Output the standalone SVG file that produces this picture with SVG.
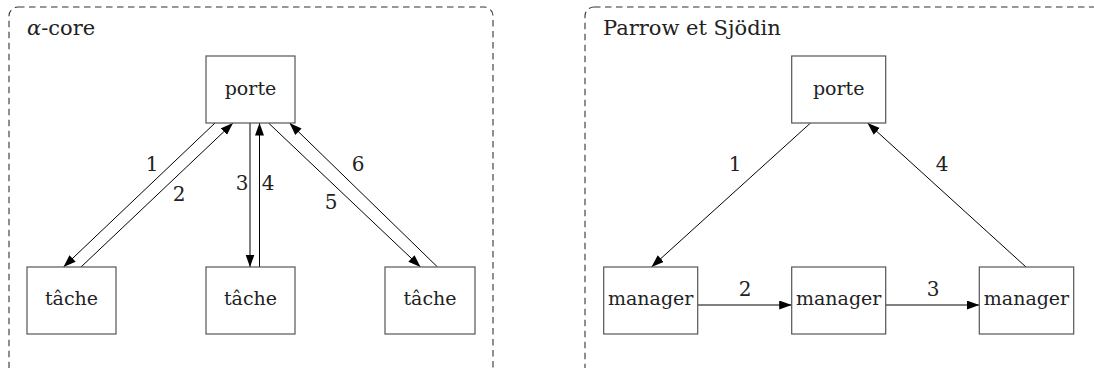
<svg xmlns="http://www.w3.org/2000/svg" width="1094" height="368" viewBox="0 0 1094 368">
<style>
.frame{fill:none;stroke:#333;stroke-width:1.1;stroke-dasharray:6.5,4.5}
.box{fill:#fff;stroke:#555;stroke-width:1.2}
text{font-family:'DejaVu Serif',serif;fill:#222}
.lbl{font-size:19px;text-anchor:middle}
.ttl{font-size:21px}
.num{font-size:20px;text-anchor:middle}
.arr{fill:none;stroke:#000;stroke-width:1;marker-end:url(#ah)}
</style>
<defs>
<marker id="ah" markerUnits="userSpaceOnUse" markerWidth="14" markerHeight="10" refX="12.5" refY="4.5" orient="auto">
<path d="M0,0 L12.5,4.5 L0,9 z" fill="#000"/>
</marker>
</defs>
<rect fill="#fff" width="1094" height="368"/>
<g id="panel-left">
<rect class="frame" x="9" y="7" width="484" height="400" rx="9"/>
<text class="ttl" x="27" y="35"><tspan font-style="italic">α</tspan>-core</text>
</g>
<g id="panel-right">
<rect class="frame" x="585" y="7" width="540" height="400" rx="9"/>
<text class="ttl" x="603" y="35">Parrow et Sjödin</text>
</g>
<g id="connectors">
<line class="arr" x1="215" y1="123" x2="63.5" y2="267"/>
<line class="arr" x1="81" y1="267" x2="233" y2="123"/>
<line class="arr" x1="250" y1="123" x2="250" y2="267"/>
<line class="arr" x1="259.5" y1="267" x2="259.5" y2="123"/>
<line class="arr" x1="268.5" y1="123" x2="420.5" y2="267"/>
<line class="arr" x1="437.5" y1="267" x2="289.5" y2="123"/>
<line class="arr" x1="810.5" y1="123" x2="651.5" y2="267"/>
<line class="arr" x1="1026" y1="267" x2="867.5" y2="123"/>
<line class="arr" x1="697.7" y1="305" x2="791.7" y2="305"/>
<line class="arr" x1="885.7" y1="305" x2="979.3" y2="305"/>
<text class="num" x="152" y="171">1</text>
<text class="num" x="179" y="201">2</text>
<text class="num" x="242" y="190">3</text>
<text class="num" x="268" y="190">4</text>
<text class="num" x="331" y="209">5</text>
<text class="num" x="358" y="171">6</text>
<text class="num" x="735" y="171">1</text>
<text class="num" x="745" y="296">2</text>
<text class="num" x="933" y="296">3</text>
<text class="num" x="942" y="171">4</text>
</g>
<g id="n-porte-a"><rect class="box" x="206" y="56" width="89" height="67"/><text class="lbl" x="250.5" y="95">porte</text></g>
<g id="n-tache-1"><rect class="box" x="27" y="267" width="89" height="67"/><text class="lbl" x="71.5" y="305">tâche</text></g>
<g id="n-tache-2"><rect class="box" x="206" y="267" width="89" height="67"/><text class="lbl" x="250.5" y="305">tâche</text></g>
<g id="n-tache-3"><rect class="box" x="385" y="267" width="90" height="67"/><text class="lbl" x="430" y="305">tâche</text></g>
<g id="n-porte-p"><rect class="box" x="791.7" y="56" width="94" height="67"/><text class="lbl" x="838.7" y="95">porte</text></g>
<g id="n-manager-1"><rect class="box" x="603.7" y="267" width="94" height="67"/><text class="lbl" x="650.7" y="305">manager</text></g>
<g id="n-manager-2"><rect class="box" x="791.7" y="267" width="94" height="67"/><text class="lbl" x="838.7" y="305">manager</text></g>
<g id="n-manager-3"><rect class="box" x="979.3" y="267" width="94.4" height="67"/><text class="lbl" x="1026.5" y="305">manager</text></g>
</svg>
